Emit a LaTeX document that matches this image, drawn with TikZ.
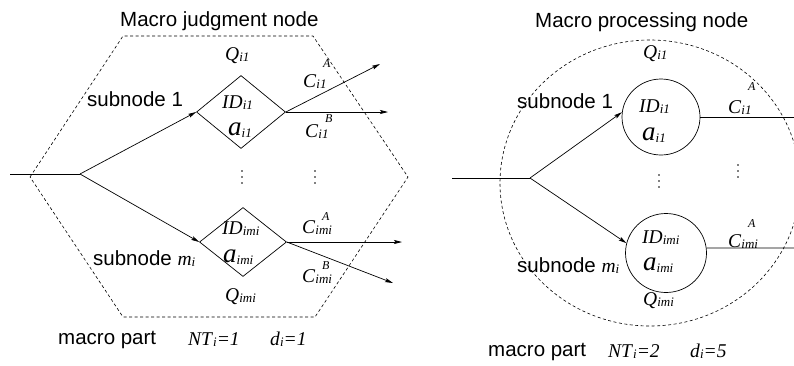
\documentclass[tikz,border=0pt]{standalone}
\usepackage{fontspec}
\setmainfont{Liberation Serif}
\newfontfamily\hvfont{Liberation Sans}
\usetikzlibrary{shapes.geometric,arrows.meta}
\newcommand{\sbx}[1]{\raisebox{-0.2ex}{\fontsize{13}{13}\selectfont\itshape #1}}
\newcommand{\lbl}[2]{\textit{#1}\sbx{#2}}
\newcommand{\CC}[3]{\textit{C}\rlap{\raisebox{#3}{\hspace{0.35em}\fontsize{12}{12}\selectfont\itshape #1}}\sbx{#2}}
\tikzset{
 lab/.style={anchor=base west, inner sep=0pt, font=\fontsize{19.5}{20}\selectfont},
 biga/.style={anchor=base west, inner sep=0pt, font=\fontsize{27}{27}\selectfont},
 sanstext/.style={anchor=base west, inner sep=0pt, font=\hvfont\fontsize{20.5}{21}\selectfont},
 bound/.style={draw, line width=0.6pt, dash pattern=on 3pt off 2.5pt},
 conn/.style={line width=0.7pt},
 arr/.style={conn, -{Stealth[length=8pt,width=4pt,inset=1.5pt]}},
 dia/.style={draw, line width=0.7pt, diamond, inner sep=0pt},
 circ/.style={draw, line width=0.7pt, ellipse, inner sep=0pt},
 vdot/.style={fill, circle, inner sep=0pt, minimum size=1.8pt},
}
\begin{document}
\begin{tikzpicture}[x=1pt,y=-1pt]
\useasboundingbox (0,0) rectangle (794,365);
% boundaries
\draw[bound] (30,177)--(123,36)--(313,36)--(408,177)--(315,317)--(123,317)--cycle;
\draw[bound] (650,183) ellipse [x radius=150, y radius=143];
% subnodes
\node[dia, minimum width=89, minimum height=73] (d1) at (241,112) {};
\node[dia, minimum width=87, minimum height=69] (d2) at (243,242) {};
\node[circ, minimum width=78, minimum height=76] (c1) at (661,117) {};
\node[circ, minimum width=81, minimum height=79] (c2) at (666,253) {};
% coordinates
\coordinate (inL) at (10,174);
\coordinate (brL) at (80,174);
\coordinate (oA1) at (380,64);
\coordinate (oB1) at (388,112);
\coordinate (oA2) at (402,242);
\coordinate (oB2) at (393,283);
\coordinate (inR) at (452,178);
\coordinate (brR) at (530,178);
\coordinate (oR1) at (794,117);
\coordinate (oR2) at (794,248);
% connectors
\draw[conn] (inL)--(brL);
\draw[arr] (brL)--(d1.west);
\draw[arr] (brL)--(d2.west);
\draw[arr] (d1.east)--(oA1);
\draw[arr] (d1.east)--(oB1);
\draw[arr] (d2.east)--(oA2);
\draw[arr] (d2.east)--(oB2);
\draw[conn] (inR)--(brR);
\draw[arr] (brR)--(c1.173);
\draw[arr] (brR)--(c2.166);
\draw[conn] (c1.east)--(oR1);
\draw[conn] (c2.7)--(oR2);
% left texts
\node[sanstext] (tL) at (120,26) {Macro judgment node};
\node[lab] (qL1) at (225,60) {\lbl{Q}{i1}};
\node[lab] (idL1) at (222,108) {\lbl{ID}{i1}};
\node[biga] (aL1) at (228,135) {\lbl{a}{i1}};
\node[sanstext] (sL1) at (87,106) {subnode 1};
\node[lab] (cAL1) at (303,87) {\CC{A}{i1}{20pt}};
\node[lab] (cBL1) at (305,137) {\CC{B}{i1}{15pt}};
\node[sanstext] (sLm) at (93,265) {subnode {\fontsize{19.5}{20}\selectfont\rmfamily\itshape m\sbx{i}}};
\node[lab] (idLm) at (222,234) {\lbl{ID}{imi}};
\node[biga] (aLm) at (223,262) {\lbl{a}{imi}};
\node[lab] (cALm) at (302,233) {\CC{A}{imi}{13pt}};
\node[lab] (cBLm) at (302,282) {\CC{B}{imi}{13pt}};
\node[lab] (qLm) at (225,301) {\lbl{Q}{imi}};
\node[sanstext] (mpL) at (58,344) {macro part};
\node[lab] (ntL) at (188,345) {\textit{NT}\sbx{i}\textit{=1}};
\node[lab] (dL) at (270,345) {\textit{d}\sbx{i}\textit{=1}};
% right texts
\node[sanstext] (tR) at (535,27) {Macro processing node};
\node[lab] (qR1) at (643,58) {\lbl{Q}{i1}};
\node[sanstext] (sR1) at (517,108) {subnode 1};
\node[lab] (idR1) at (639,112) {\lbl{ID}{i1}};
\node[biga] (aR1) at (642,140) {\lbl{a}{i1}};
\node[lab] (cAR1) at (728,113) {\CC{A}{i1}{23pt}};
\node[lab] (idRm) at (642,243) {\lbl{ID}{imi}};
\node[biga] (aRm) at (643,270) {\lbl{a}{imi}};
\node[sanstext] (sRm) at (517,272) {subnode {\fontsize{19.5}{20}\selectfont\rmfamily\itshape m\sbx{i}}};
\node[lab] (qRm) at (643,305) {\lbl{Q}{imi}};
\node[lab] (cARm) at (728,247) {\CC{A}{imi}{20pt}};
\node[sanstext] (mpR) at (488,356) {macro part};
\node[lab] (ntR) at (608,357) {\textit{NT}\sbx{i}\textit{=2}};
\node[lab] (dR) at (690,357) {\textit{d}\sbx{i}\textit{=5}};
% vertical dots
\foreach \x/\y [count=\k] in {242/171, 242/177, 242/183, 315/171, 315/177, 315/183,
  659/175, 659/181, 659/187, 738/165, 738/171, 738/177}
  \node[vdot] (dot\k) at (\x,\y) {};
\end{tikzpicture}
\end{document}
